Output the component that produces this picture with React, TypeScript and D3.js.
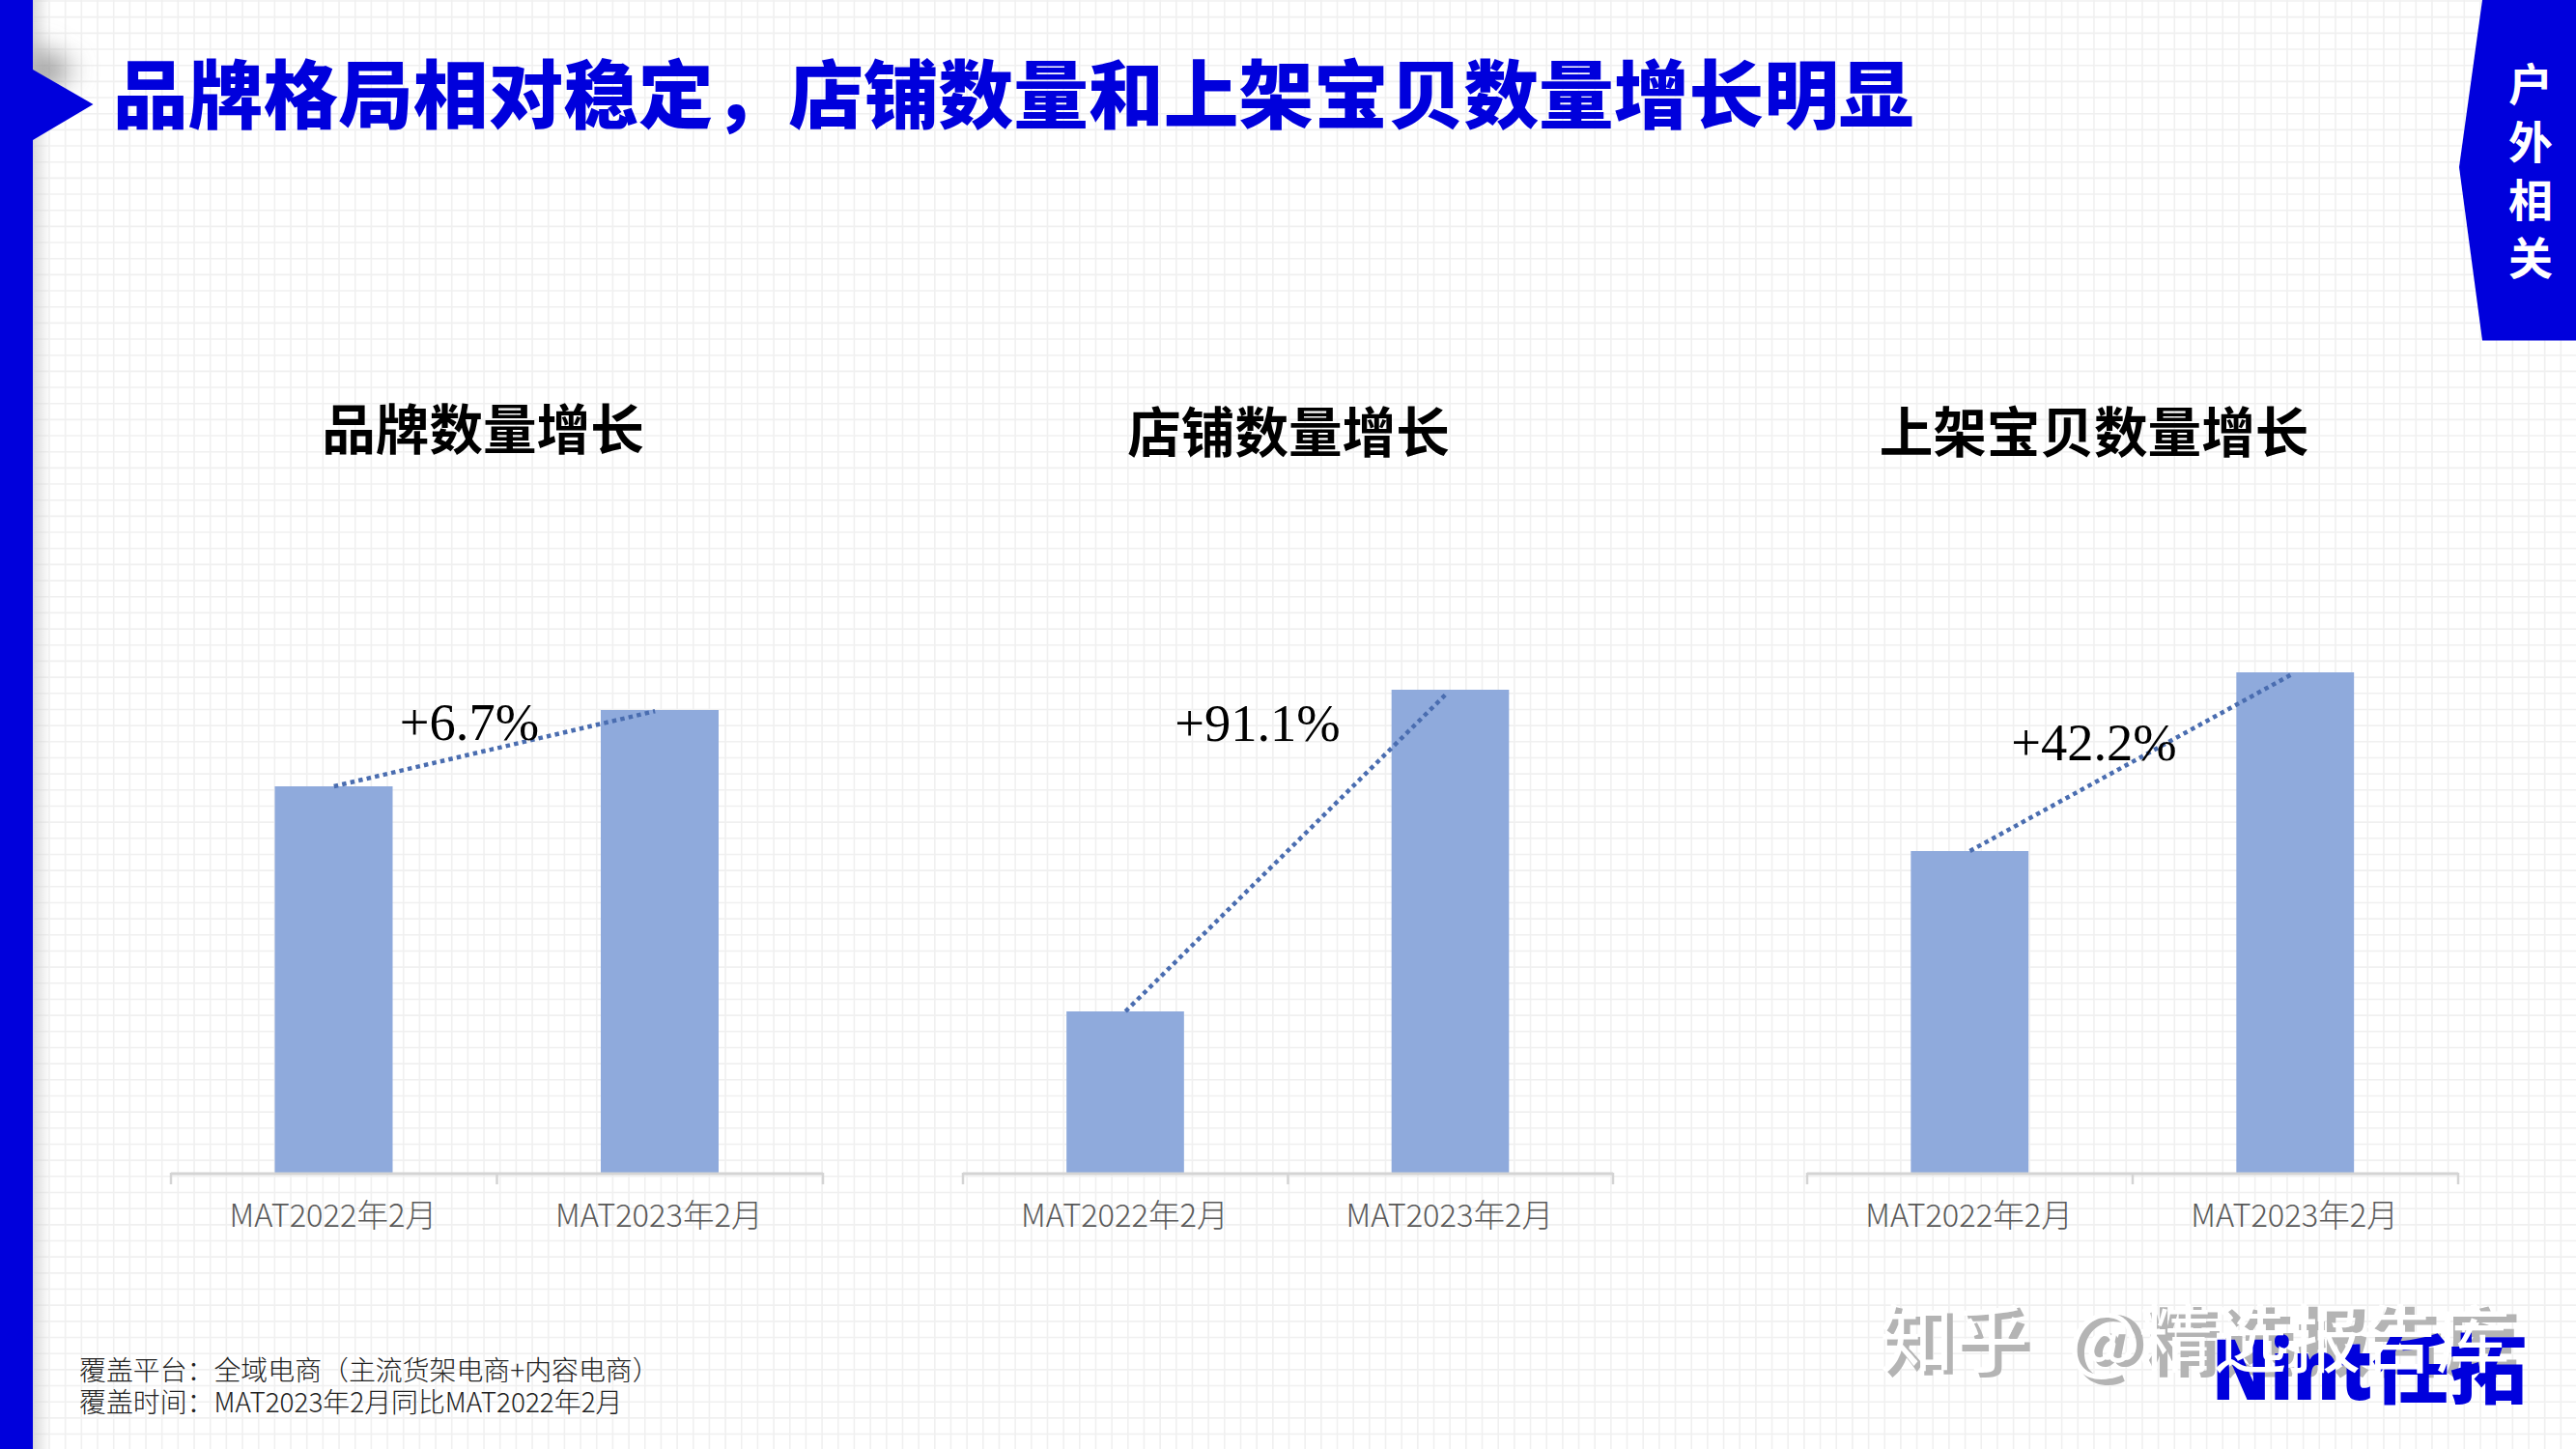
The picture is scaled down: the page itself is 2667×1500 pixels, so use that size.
import React from "react";
import * as d3 from "d3";

const W = 2667;
const H = 1500;
const BLUE = "#0000DC";
const CJK = '"Noto Sans CJK SC", "Noto Sans", sans-serif';

const categories = ["MAT2022年2月", "MAT2023年2月"];
const panelTitles = ["品牌数量增长", "店铺数量增长", "上架宝贝数量增长"];
const brandValues = [80, 95.8];
const storeValues = [33.4, 100];
const itemValues = [66.6, 103.6];
const growthLabels = ["+6.7%", "+91.1%", "+42.2%"];
const title = "品牌格局相对稳定，店铺数量和上架宝贝数量增长明显";
const tabChars = ["户", "外", "相", "关"];
const footnotes = ["覆盖平台：全域电商（主流货架电商+内容电商）", "覆盖时间：MAT2023年2月同比MAT2022年2月"];
const watermarkHead = "知乎";
const watermarkTail = "@精选报告库";

const panels = [
  { values: brandValues, label: growthLabels[0], name: panelTitles[0], axis: [177, 852], titleX: 500, titleY: 465, labelX: 486, labelY: 766 },
  { values: storeValues, label: growthLabels[1], name: panelTitles[1], axis: [997, 1670], titleX: 1334, titleY: 468, labelX: 1302, labelY: 767 },
  { values: itemValues, label: growthLabels[2], name: panelTitles[2], axis: [1871, 2545], titleX: 2168, titleY: 468, labelX: 2168, labelY: 787 },
];

const y = d3.scaleLinear().domain([0, 100]).range([1214, 714]);
const gridStep = W / 160;
const gridX = d3.range(0, 161).map((i) => 1 + i * gridStep);
const gridY = d3.range(0, 91).map((i) => 1 + i * gridStep);
const lineGen = d3.line<[number, number]>().x((d) => d[0]).y((d) => d[1]);

function Panel({ p }: { p: (typeof panels)[number] }) {
  const x = d3.scaleBand<string>().domain(categories).range(p.axis as [number, number]);
  const bw = x.bandwidth();
  const barW = bw * 0.36;
  const base = y(0);
  const cx = categories.map((c) => (x(c) as number) + bw / 2);
  const x0 = cx[0];
  const y0 = y(p.values[0]);
  const trim = 0.985;
  const x1 = x0 + (cx[1] - x0) * trim;
  const y1 = y0 + (y(p.values[1]) - y0) * trim;
  const ticks = [p.axis[0], (p.axis[0] + p.axis[1]) / 2, p.axis[1]];
  return (
    <g>
      <text x={p.titleX} y={p.titleY} textAnchor="middle" fontFamily={CJK} fontWeight={700} fontSize={55.6} fill="#000">
        {p.name}
      </text>
      {categories.map((c, i) => (
        <rect key={c} x={cx[i] - barW / 2 - 0.5} y={y(p.values[i])} width={barW + 0.5} height={base - y(p.values[i])} fill="#8FAADC" />
      ))}
      <path d={`M${p.axis[0]},${base + 1}H${p.axis[1]}`} stroke="#D4D4D4" strokeWidth={3} fill="none" />
      {ticks.map((t) => (
        <line key={t} x1={t} x2={t} y1={base} y2={base + 12} stroke="#D4D4D4" strokeWidth={2.5} />
      ))}
      {categories.map((c, i) => (
        <text key={c} x={cx[i] - 1} y={1270} textAnchor="middle" fontFamily={CJK} fontWeight={300} fontSize={32.6} fill="#595959">
          {c}
        </text>
      ))}
      <path d={lineGen([[x0, y0], [x1, y1]]) as string} fill="none" stroke="#4A6DB0" strokeWidth={4.5} strokeDasharray="4.5 4.2" />
      <text x={p.labelX} y={p.labelY} textAnchor="middle" fontFamily='"Liberation Serif", serif' fontSize={54.5} fill="#000">
        {p.label}
      </text>
    </g>
  );
}

export default function App() {
  return (
    <svg
      width={W}
      height={H}
      viewBox={`0 0 ${W} ${H}`}
      style={{ position: "absolute", left: 0, top: 0, display: "block", background: "#fff" }}
    >
      <defs>
        <filter id="soft" x="-100%" y="-100%" width="300%" height="300%">
          <feGaussianBlur stdDeviation="14" />
        </filter>
        <linearGradient id="edge" x1="0" x2="1" y1="0" y2="0">
          <stop offset="0" stopColor="#d0d0d0" stopOpacity={0.8} />
          <stop offset="1" stopColor="#d0d0d0" stopOpacity={0} />
        </linearGradient>
      </defs>
      <rect width={W} height={H} fill="#fff" />
      <g stroke="#F0F0F0" strokeWidth={1.6}>
        {gridX.map((v) => (
          <line key={`v${v}`} x1={v} x2={v} y1={0} y2={H} />
        ))}
        {gridY.map((v) => (
          <line key={`h${v}`} x1={0} x2={W} y1={v} y2={v} />
        ))}
      </g>

      <rect x={34} y={0} width={18} height={H} fill="url(#edge)" />
      <path d="M34,46L78,72L34,100Z" fill="#8a8a8a" filter="url(#soft)" />
      <rect x={0} y={0} width={34} height={H} fill={BLUE} />
      <path d="M34,72L96.5,108L34,145Z" fill={BLUE} />

      <text x={117} y={127} fontFamily={CJK} fontWeight={900} fontSize={77.7} fill={BLUE}>
        {title}
      </text>

      <path d="M2570,0H2667V352.5H2570L2546,173Z" fill={BLUE} />
      {tabChars.map((c, i) => (
        <text key={c} x={2620} y={104 + i * 60} textAnchor="middle" fontFamily={CJK} fontWeight={700} fontSize={46} fill="#fff">
          {c}
        </text>
      ))}

      {panels.map((p) => (
        <Panel key={p.name} p={p} />
      ))}

      {footnotes.map((t, i) => (
        <text key={t} x={82} y={1429 + i * 33} fontFamily={CJK} fontWeight={300} fontSize={27.9} fill="#222">
          {t}
        </text>
      ))}

      <g fontFamily={CJK} fontSize={77} fontWeight={700} fill="#B4B4B4">
        <text x={1951} y={1419}>{watermarkHead}</text>
        <text x={2146} y={1419}>{watermarkTail}</text>
      </g>

      <text x={2290} y={1449} fontFamily='"Noto Sans", sans-serif' fontWeight={900} fontSize={86} fill={BLUE} textLength={166} lengthAdjust="spacingAndGlyphs">
        Nint
      </text>
      <text x={2456} y={1447} fontFamily={CJK} fontWeight={900} fontSize={78} fill={BLUE} textLength={160} lengthAdjust="spacingAndGlyphs">
        任拓
      </text>

      <g fontFamily={CJK} fontSize={77} fontWeight={400} fill="#fff">
        <text x={1946} y={1415}>{watermarkHead}</text>
        <text x={2141} y={1415}>{watermarkTail}</text>
      </g>
    </svg>
  );
}
